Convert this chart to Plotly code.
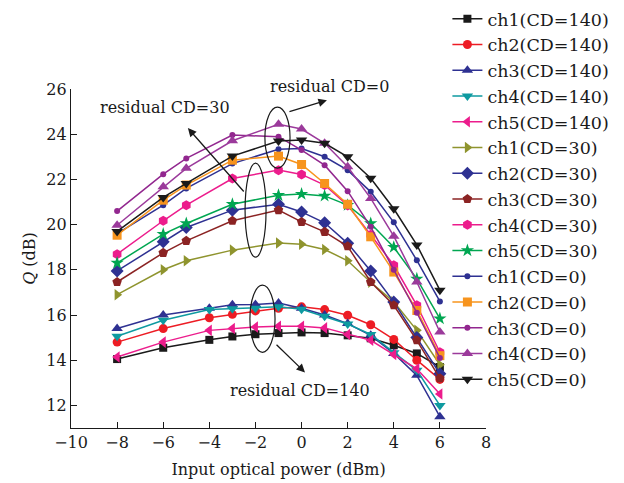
import plotly.graph_objects as go

# x positions
x_cd140 = [-8, -6, -4, -3, -2, -1, 0, 1, 2, 3, 4, 5, 6]
x_cd30 = [-8, -6, -5, -3, -1, 0, 1, 2, 3, 4, 5, 6]
x_cd0 = [-8, -6, -5, -3, -1, 0, 1, 2, 3, 4, 5, 6]

# residual CD = 140
ch1_140 = [14.05, 14.55, 14.9, 15.05, 15.15, 15.2, 15.23, 15.2, 15.1, 14.97, 14.66, 14.3, 13.7]
ch2_140 = [14.8, 15.4, 15.88, 16.03, 16.18, 16.3, 16.36, 16.24, 15.99, 15.57, 14.92, 14.0, 13.15]
ch3_140 = [15.4, 16.0, 16.3, 16.45, 16.47, 16.53, 16.3, 16.0, 15.62, 15.1, 14.3, 13.33, 11.5]
ch4_140 = [15.06, 15.77, 16.24, 16.28, 16.3, 16.36, 16.25, 15.94, 15.6, 15.14, 14.33, 13.55, 12.0]
ch5_140 = [14.14, 14.8, 15.32, 15.4, 15.47, 15.5, 15.5, 15.43, 15.14, 14.88, 14.25, 13.62, 12.5]

# residual CD = 30
ch1_30 = [16.9, 18.0, 18.4, 18.87, 19.19, 19.13, 18.9, 18.4, 17.45, 16.58, 15.32, 13.8]
ch2_30 = [17.95, 19.24, 19.87, 20.64, 20.9, 20.56, 20.08, 19.17, 17.95, 16.58, 15.0, 13.4]
ch3_30 = [17.46, 18.75, 19.28, 20.17, 20.64, 20.12, 19.68, 19.04, 17.46, 16.43, 14.88, 13.2]
ch4_30 = [18.69, 20.17, 20.86, 22.04, 22.41, 22.22, 21.75, 20.85, 19.55, 18.2, 16.43, 14.35]
ch5_30 = [18.3, 19.58, 20.05, 20.9, 21.3, 21.35, 21.27, 20.86, 20.05, 19.0, 17.6, 15.84]

# residual CD = 0
ch1_0 = [19.6, 20.86, 21.6, 22.7, 23.33, 23.37, 23.0, 22.41, 21.45, 20.1, 18.42, 16.6]
ch2_0 = [19.53, 21.08, 21.75, 22.85, 23.03, 22.66, 21.82, 20.9, 19.46, 17.9, 16.2, 14.2]
ch3_0 = [20.6, 22.23, 22.93, 23.96, 23.89, 23.3, 22.63, 21.48, 19.9, 18.0, 16.1, 14.1]
ch4_0 = [19.97, 21.67, 22.49, 23.71, 24.44, 24.23, 23.6, 22.56, 21.16, 19.49, 17.46, 15.25]
ch5_0 = [19.7, 21.2, 21.82, 23.03, 23.7, 23.74, 23.6, 23.0, 22.05, 20.7, 19.1, 17.1]

x_ticks = [-10, -8, -6, -4, -2, 0, 2, 4, 6, 8]
y_ticks = [12, 14, 16, 18, 20, 22, 24, 26]

series = [
    ("ch1(CD=140)", x_cd140, ch1_140, "#1a1a1a", "square", 8),
    ("ch2(CD=140)", x_cd140, ch2_140, "#ed1c24", "circle", 9),
    ("ch3(CD=140)", x_cd140, ch3_140, "#2e3192", "triangle-up", 10),
    ("ch4(CD=140)", x_cd140, ch4_140, "#0e9aa0", "triangle-down", 10),
    ("ch5(CD=140)", x_cd140, ch5_140, "#ec1c8c", "triangle-left", 10),
    ("ch1(CD=30)", x_cd30, ch1_30, "#8f942e", "triangle-right", 10),
    ("ch2(CD=30)", x_cd30, ch2_30, "#2e3192", "diamond", 10),
    ("ch3(CD=30)", x_cd30, ch3_30, "#8b2323", "pentagon", 10),
    ("ch4(CD=30)", x_cd30, ch4_30, "#ec1c8c", "hexagon", 10),
    ("ch5(CD=30)", x_cd30, ch5_30, "#00a651", "star", 10),
    ("ch1(CD=0)", x_cd0, ch1_0, "#2e3192", "circle", 6),
    ("ch2(CD=0)", x_cd0, ch2_0, "#f7941d", "square", 9),
    ("ch3(CD=0)", x_cd0, ch3_0, "#92278f", "circle", 6),
    ("ch4(CD=0)", x_cd0, ch4_0, "#9b3a9b", "triangle-up", 10),
    ("ch5(CD=0)", x_cd0, ch5_0, "#1a1a1a", "triangle-down", 10),
]

fig = go.Figure()
for name, xs, ys, color, sym, size in series:
    fig.add_trace(go.Scatter(
        x=xs, y=ys, name=name, mode="lines+markers",
        line=dict(color=color, width=1.5),
        marker=dict(symbol=sym, size=size, color=color),
    ))

FONT = "DejaVu Serif"
INK = "#1a1a1a"

# ellipses
ell = dict(type="circle", xref="x", yref="y", line=dict(color=INK, width=1.2))
fig.add_shape(x0=-2.45, x1=-1.54, y0=18.56, y1=22.72, **ell)
fig.add_shape(x0=-1.59, x1=-0.50, y0=22.5, y1=25.2, **ell)
fig.add_shape(x0=-2.24, x1=-1.15, y0=14.35, y1=17.32, **ell)

# arrows
arr = dict(xref="x", yref="y", axref="x", ayref="y", text="", showarrow=True,
           arrowhead=2, arrowsize=1.3, arrowwidth=1.3, arrowcolor=INK)
fig.add_annotation(x=-4.93, y=24.27, ax=-2.45, ay=21.4, **arr)
fig.add_annotation(x=1.1, y=25.5, ax=-0.59, ay=24.98, **arr)
fig.add_annotation(x=0.15, y=13.46, ax=-1.15, ay=14.75, **arr)

txt = dict(showarrow=False, font=dict(family=FONT, size=16, color=INK))
fig.add_annotation(x=-5.92, y=25.16, xref="x", yref="y", text="residual CD=30", **txt)
fig.add_annotation(x=1.23, y=1.006, xref="x", yref="paper", yanchor="middle",
                   text="residual CD=0", **txt)
fig.add_annotation(x=-0.07, y=12.66, xref="x", yref="y", text="residual CD=140", **txt)

axis_common = dict(
    showgrid=False, zeroline=False, showline=True, linecolor=INK, linewidth=1.3,
    ticks="inside", ticklen=6, tickcolor=INK, tickwidth=1.3, mirror=False,
    tickfont=dict(family=FONT, size=16, color=INK), automargin=False,
)

fig.update_layout(
    width=624, height=483,
    margin=dict(l=63, r=146, t=81, b=63, autoexpand=False),
    paper_bgcolor="white", plot_bgcolor="white",
    font=dict(family=FONT, color=INK),
    xaxis=dict(range=[-10, 8], tickvals=x_ticks,
               title=dict(text="Input optical power (dBm)", font=dict(family=FONT, size=16), standoff=12),
               **axis_common),
    yaxis=dict(range=[11, 26], tickvals=y_ticks,
               title=dict(text="<i>Q</i> (dB)", font=dict(family=FONT, size=16), standoff=6),
               **axis_common),
    legend=dict(x=0.907, y=1.26, xanchor="left", yanchor="top", maxheight=1,
                bgcolor="rgba(0,0,0,0)", font=dict(family=FONT, size=17.5, color=INK),
                tracegroupgap=0, itemwidth=30),
    showlegend=True,
)

fig.write_html("out.html")
